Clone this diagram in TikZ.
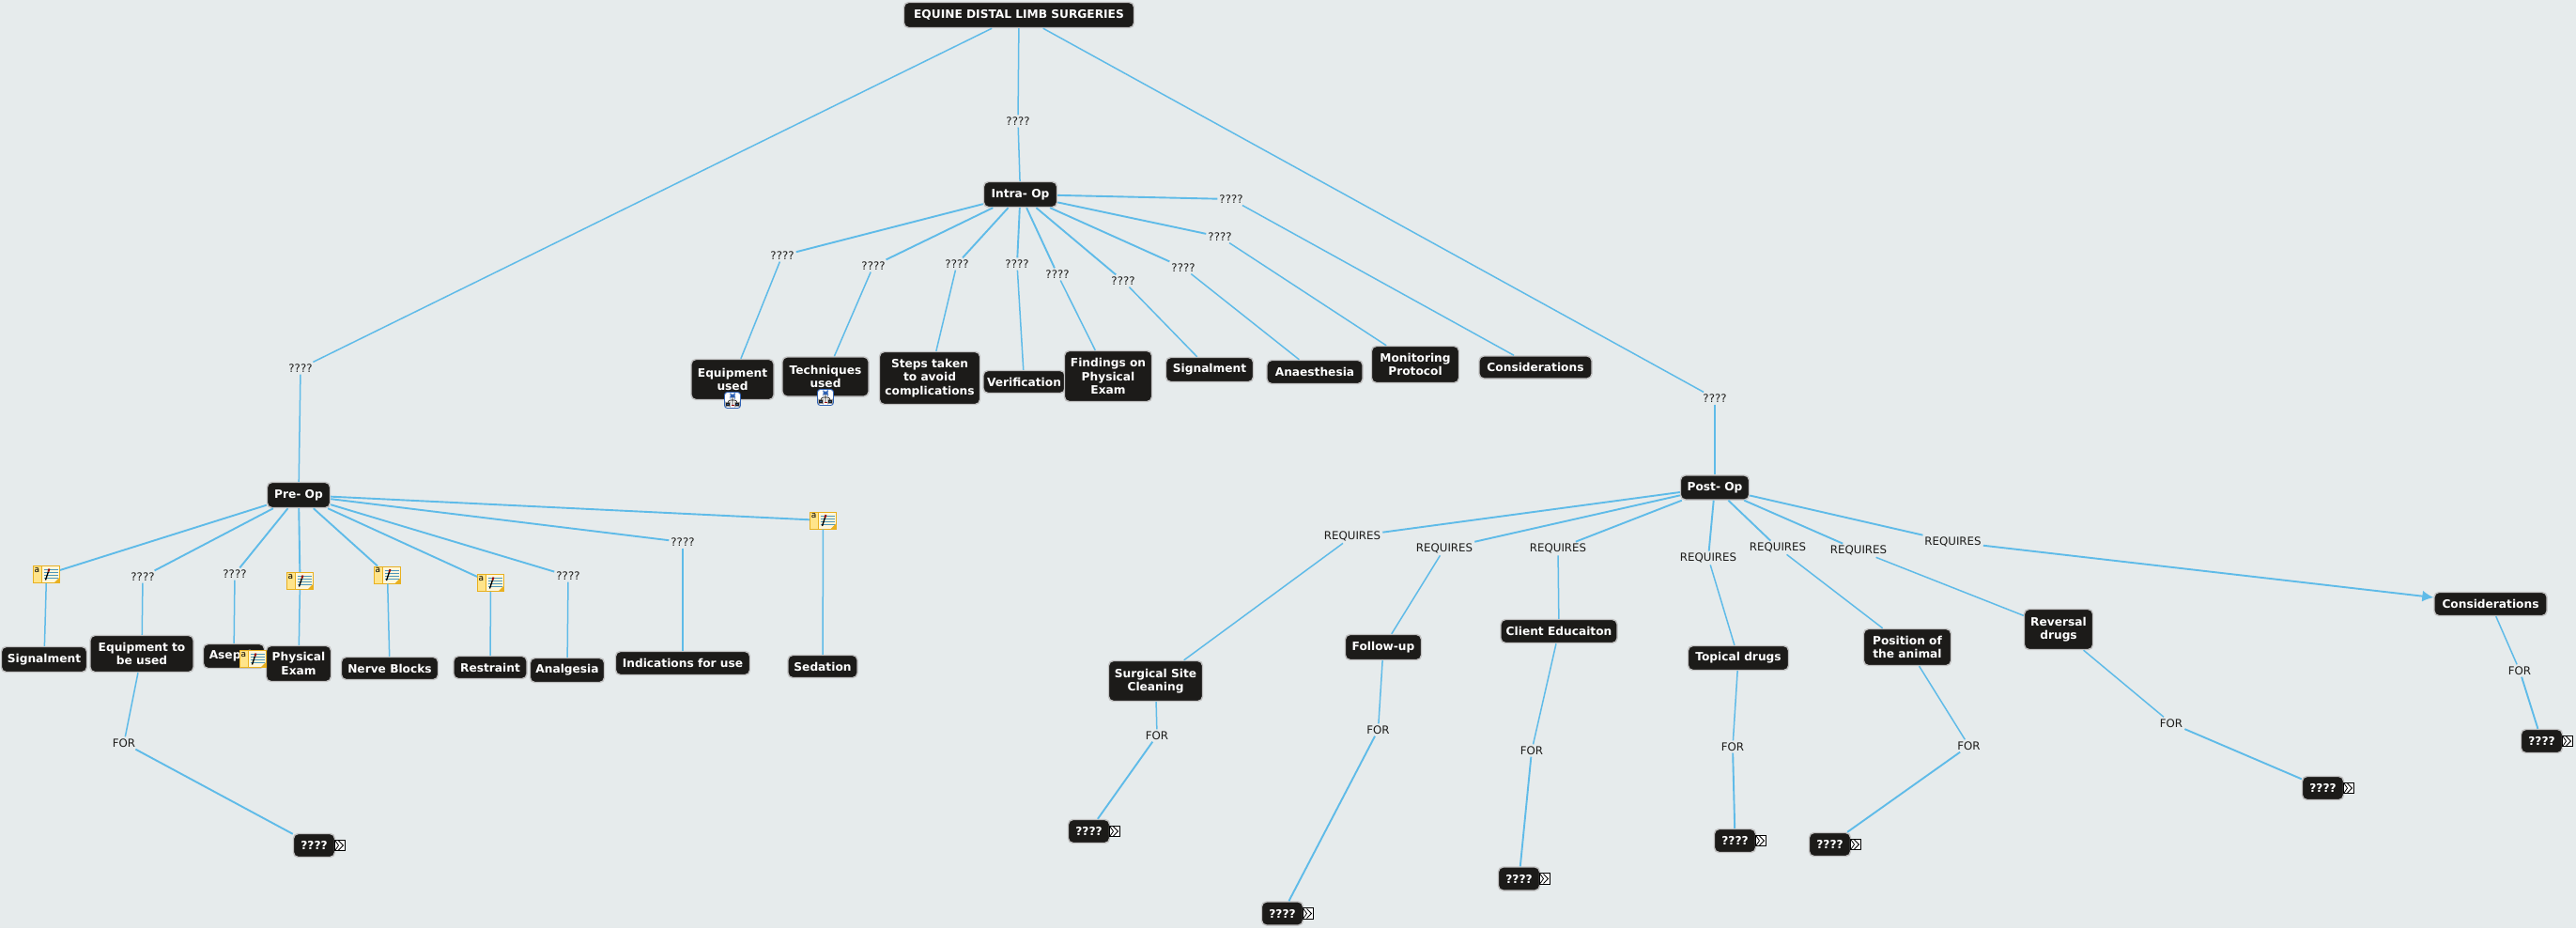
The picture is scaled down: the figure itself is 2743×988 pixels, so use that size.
\documentclass[tikz,border=0pt]{standalone}
\usepackage{fontspec}
\setmainfont{DejaVu Sans}
\usetikzlibrary{arrows.meta}
\definecolor{mapback}{HTML}{E6EBEC}
\definecolor{topicfill}{HTML}{1C1B19}
\definecolor{topicedge}{HTML}{C2C2C2}
\definecolor{linkblue}{HTML}{5FBBE8}
\definecolor{noteedge}{HTML}{E8B020}
\definecolor{notefill}{HTML}{FFE48A}
\definecolor{treeblue}{HTML}{2F62B5}
\tikzset{
	topic/.style 2 args={rectangle, rounded corners=5pt, draw=topicedge, line width=1.4pt, fill=topicfill, text=white, align=center, inner sep=0pt, minimum width=#1pt, minimum height=#2pt, font=\fontsize{12.2}{14.5}\selectfont\bfseries},
	linktext/.style={inner sep=2pt, text=topicfill, font=\fontsize{11.8}{14.5}\selectfont},
	linka/.style={draw=linkblue, line width=1.5pt},
	linkb/.style={draw=linkblue, line width=1.9pt},
	noteicon/.style={rectangle, draw=noteedge, line width=.9pt, fill=notefill, inner sep=0pt, minimum width=28pt, minimum height=18pt, path picture={
		\begin{scope}[shift={(path picture bounding box.center)}]
			\fill[white!70!notefill] (-5,-9) rectangle (14,9);
			\draw[noteedge, line width=.5pt] (-5,-9) -- (-5,9);
			\foreach \j in {-5, -2, 1, 4}
				{
					\draw[linkblue!80!black, line width=.9pt] (-3,\j) -- (12,\j);
				}
			\draw[black, line width=1.3pt] (-1,6) -- (2,-3);
			\draw[red!60!black, line width=1.8pt] (2,-3) -- (3,-6);
			\fill[noteedge] (14,3) -- (14,9) -- (8,9) -- cycle;
			\node[inner sep=0pt, text=black, font=\fontsize{9}{9}\selectfont] at (-10,-4.5) (letter) {a};
		\end{scope}
	}},
	treeicon/.style={rectangle, rounded corners=3pt, draw=treeblue, line width=.9pt, fill=white, inner sep=0pt, minimum width=17pt, minimum height=17pt, path picture={
		\begin{scope}[shift={(path picture bounding box.center)}]
			\draw[treeblue, line width=1pt] (-2,-6) rectangle (2,-3.5);
			\draw[topicfill, line width=.7pt] (0,-3.5) -- (0,5) (-5,3) -- (-5,0) -- (5,0) -- (5,3);
			\draw[topicfill, fill=treeblue, line width=.6pt] (-7,3) rectangle (-3,6) (3,3) rectangle (7,6);
			\draw[red!60!black, line width=.9pt] (-1.5,5) -- (1.5,5);
		\end{scope}
	}},
	moreicon/.style={rectangle, draw=black, line width=.8pt, fill=white, inner sep=0pt, minimum width=11.5pt, minimum height=11.5pt, path picture={
		\begin{scope}[shift={(path picture bounding box.center)}]
			\draw[black, line width=.8pt] (-5,-5) -- (-1.5,0) -- (-5,5) (-1.5,-5) -- (3.5,0) -- (-1.5,5);
		\end{scope}
	}}
}
\begin{document}
\begin{tikzpicture}[x=1pt, y=-1pt]
	\useasboundingbox (0,0) rectangle (2743,988);
	\fill[mapback] (0,0) rectangle (2743,988);

	% main topics
	\node[topic={245}{27}] at (1085,16) (root) {EQUINE DISTAL LIMB SURGERIES};
	\node[topic={78}{27}] at (1086.5,207) (intraOp) {Intra- Op};
	\node[topic={67}{27}] at (318,527) (preOp) {Pre- Op};
	\node[topic={73}{26}] at (1826,519) (postOp) {Post- Op};
	\node[linktext] at (1084,129) (qIntra) {????};
	\node[linktext] at (320,392) (qPre) {????};
	\node[linktext] at (1826,424) (qPost) {????};

	% pre op
	\node[topic={91}{27}] at (47,702) (preSignal) {Signalment};
	\node[topic={110}{39}] at (151,696) (preEquip) {Equipment to\\be used};
	\node[topic={65}{26}] at (249,698.5) (preAsep) {Asepsis};
	\node[topic={69}{38}] at (318,706.5) (prePhys) {Physical\\Exam};
	\node[topic={103}{24}] at (415,711.5) (preNerve) {Nerve Blocks};
	\node[topic={78}{24}] at (522,710.5) (preRestr) {Restraint};
	\node[topic={79}{26}] at (604,713.5) (preAnalg) {Analgesia};
	\node[topic={143}{25}] at (727,706) (preIndic) {Indications for use};
	\node[topic={74}{24}] at (876,709.5) (preSed) {Sedation};
	\node[linktext] at (152,614) (qEquip) {????};
	\node[linktext] at (250,611) (qAsep) {????};
	\node[linktext] at (605,613) (qAnalg) {????};
	\node[linktext] at (727,577) (qIndic) {????};
	\node[noteicon] at (49.5,611.5) (noteSignal) {};
	\node[noteicon] at (319.5,618.5) (notePhys) {};
	\node[noteicon] at (412.5,612) (noteNerve) {};
	\node[noteicon] at (522.5,620.5) (noteRestr) {};
	\node[noteicon] at (876.5,554) (noteSed) {};
	\node[noteicon] at (269.5,701.5) (noteAsep) {};

	% intra op
	\node[topic={88}{43}] at (780,404) (inEquip) {Equipment\\used};
	\node[topic={92}{42}] at (879,401) (inTech) {Techniques\\used};
	\node[topic={107}{56}] at (990,402.5) (inSteps) {Steps taken\\to avoid\\complications};
	\node[topic={87}{24}] at (1090.5,406.5) (inVerif) {Verification};
	\node[topic={93}{54}] at (1180,400.5) (inFind) {Findings on\\Physical\\Exam};
	\node[topic={93}{26}] at (1288,393.5) (inSignal) {Signalment};
	\node[topic={102}{25}] at (1400,396) (inAnaes) {Anaesthesia};
	\node[topic={93}{39}] at (1507,388) (inMonit) {Monitoring\\Protocol};
	\node[topic={120}{24}] at (1635,391) (inCons) {Considerations};
	\node[treeicon] at ([yshift=-22pt]inEquip) (treeEquip) {};
	\node[treeicon] at ([yshift=-22pt]inTech) (treeTech) {};
	\foreach \i/\x/\y in {1/833/272, 2/930/283, 3/1019/281, 4/1083/281, 5/1126/292, 6/1196/299, 7/1260/285, 8/1299/252, 9/1311/212}
		{
			\node[linktext] at (\x,\y) (qIn\i) {????};
		}

	% post op
	\node[topic={100}{43}] at (1230.5,725) (poSite) {Surgical Site\\Cleaning};
	\node[topic={81}{27}] at (1473,689) (poFollow) {Follow-up};
	\node[topic={124}{25}] at (1660,672) (poClient) {Client Educaiton};
	\node[topic={107}{26}] at (1851,700.5) (poTopic) {Topical drugs};
	\node[topic={93}{39}] at (2031,689) (poPos) {Position of\\the animal};
	\node[topic={73}{43}] at (2192,670) (poRev) {Reversal\\drugs};
	\node[topic={120}{25}] at (2652,643) (poCons) {Considerations};
	\foreach \i/\x/\y in {1/1440/571, 2/1538/584, 3/1659/584, 4/1819/594, 5/1893/583, 6/1979/586, 7/2079.5/577}
		{
			\node[linktext] at (\x,\y) (req\i) {REQUIRES};
		}

	% for labels and end topics
	\foreach \i/\x/\y in {1/132/791, 2/1232/783, 3/1467.5/777, 4/1631/799, 5/1845/795, 6/2096.5/794, 7/2312/770, 8/2683/714}
		{
			\node[linktext] at (\x,\y) (for\i) {FOR};
		}
	\foreach \i/\x/\y in {1/334.5/900, 2/1159.5/885, 3/1365.5/972.5, 4/1617.5/935.5, 5/1847.5/895, 6/1948.5/899, 7/2473.5/839, 8/2706.5/789}
		{
			\node[topic={44}{25}] at (\x,\y) (end\i) {????};
			\node[moreicon] at ([xshift=27.5pt]end\i) (more\i) {};
		}

	\foreach \a/\b in {root/qIntra, qIntra/intraOp, root/qPre, qPre/preOp, root/qPost, qPost/postOp}
		{
			\draw[linka] (\a) -- (\b);
		}
	% parent to link text
	\foreach \b in {noteSignal, qEquip, qAsep, notePhys, noteNerve, noteRestr, qAnalg, qIndic, noteSed}
		{
			\draw[linkb] (preOp) -- (\b);
		}
	\foreach \i in {1, ..., 9}
		{
			\draw[linkb] (intraOp) -- (qIn\i);
		}
	\foreach \i in {1, ..., 6}
		{
			\draw[linkb] (postOp) -- (req\i);
		}
	\draw[linkb] (postOp) -- (req7);
	% link text to child
	\foreach \a/\b in {noteSignal/preSignal, qEquip/preEquip, qAsep/preAsep, notePhys/prePhys, noteNerve/preNerve, noteRestr/preRestr, qAnalg/preAnalg, qIndic/preIndic, noteSed/preSed, qIn1/inEquip, qIn2/inTech, qIn3/inSteps, qIn4/inVerif, qIn5/inFind, qIn6/inSignal, qIn7/inAnaes, qIn8/inMonit, qIn9/inCons, req1/poSite, req2/poFollow, req3/poClient, req4/poTopic, req5/poPos, req6/poRev, preEquip/for1, poSite/for2, poFollow/for3, poClient/for4, poTopic/for5, poPos/for6, poRev/for7, poCons/for8}
		{
			\draw[linka] (\a) -- (\b);
		}
	\draw[linkb, -{Latex[length=12pt, width=12pt]}] (req7) -- (poCons);
	\foreach \i in {1, ..., 8}
		{
			\draw[linkb] (for\i) -- (end\i);
		}
\end{tikzpicture}
\end{document}
